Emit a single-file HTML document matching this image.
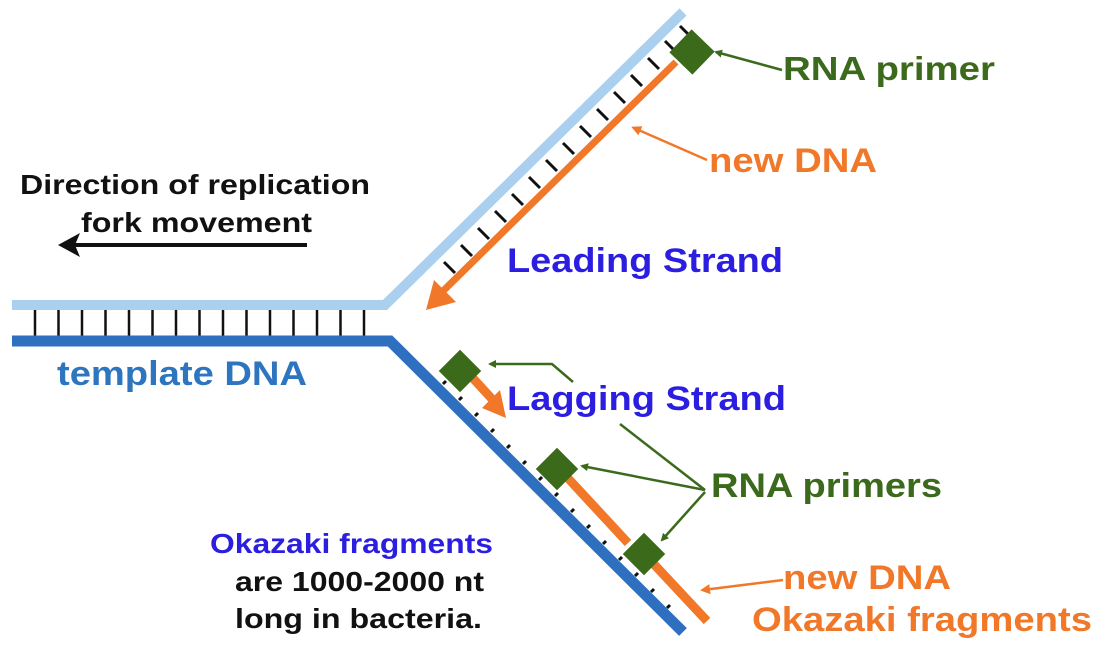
<!DOCTYPE html>
<html><head><meta charset="utf-8"><style>
html,body{margin:0;padding:0;background:#fff;}
svg{display:block;font-family:"Liberation Sans",Arial,sans-serif;font-weight:bold;}
</style></head><body>
<svg width="1108" height="649" viewBox="0 0 1108 649" xmlns="http://www.w3.org/2000/svg">
<defs>
<marker id="ag" markerWidth="8" markerHeight="8" refX="6" refY="4" orient="auto" markerUnits="userSpaceOnUse"><path d="M0,0 L8,4 L0,8 z" fill="#3c6a1c"/></marker>
<marker id="ao" markerWidth="10" markerHeight="10" refX="7" refY="5" orient="auto" markerUnits="userSpaceOnUse"><path d="M0,0 L10,5 L0,10 z" fill="#f07828"/></marker>
</defs>
<g stroke="#111" stroke-width="2.5">
<line x1="35" y1="310" x2="35" y2="336"/><line x1="58.5" y1="310" x2="58.5" y2="336"/><line x1="82" y1="310" x2="82" y2="336"/><line x1="105.5" y1="310" x2="105.5" y2="336"/><line x1="129" y1="310" x2="129" y2="336"/><line x1="152.5" y1="310" x2="152.5" y2="336"/><line x1="176" y1="310" x2="176" y2="336"/><line x1="199.5" y1="310" x2="199.5" y2="336"/><line x1="223" y1="310" x2="223" y2="336"/><line x1="246.5" y1="310" x2="246.5" y2="336"/><line x1="270" y1="310" x2="270" y2="336"/><line x1="293.5" y1="310" x2="293.5" y2="336"/><line x1="317" y1="310" x2="317" y2="336"/><line x1="340.5" y1="310" x2="340.5" y2="336"/><line x1="364" y1="310" x2="364" y2="336"/>
</g>
<g stroke="#111" stroke-width="3">
<line x1="444" y1="262" x2="455" y2="273"/><line x1="461" y1="245" x2="472" y2="256"/><line x1="478" y1="228" x2="489" y2="239"/><line x1="495" y1="211" x2="506" y2="222"/><line x1="512" y1="194" x2="523" y2="205"/><line x1="529" y1="177" x2="540" y2="188"/><line x1="546" y1="160" x2="557" y2="171"/><line x1="563" y1="143" x2="574" y2="154"/><line x1="580" y1="126" x2="591" y2="137"/><line x1="597" y1="109" x2="608" y2="120"/><line x1="614" y1="92" x2="625" y2="103"/><line x1="631" y1="75" x2="642" y2="86"/><line x1="648" y1="58" x2="659" y2="69"/><line x1="665" y1="41" x2="676" y2="52"/><line x1="680" y1="26" x2="688" y2="34"/>
</g>
<g stroke="#111" stroke-width="3">
<line x1="443" y1="384" x2="446" y2="381"/><line x1="459" y1="400" x2="462" y2="397"/><line x1="475" y1="416" x2="478" y2="413"/><line x1="491" y1="432" x2="494" y2="429"/><line x1="507" y1="448" x2="510" y2="445"/><line x1="523" y1="464" x2="526" y2="461"/><line x1="539" y1="480" x2="542" y2="477"/><line x1="555" y1="496" x2="558" y2="493"/><line x1="571" y1="512" x2="574" y2="509"/><line x1="587" y1="528" x2="590" y2="525"/><line x1="603" y1="544" x2="606" y2="541"/><line x1="619" y1="560" x2="622" y2="557"/><line x1="635" y1="576" x2="638" y2="573"/><line x1="651" y1="592" x2="654" y2="589"/><line x1="667" y1="608" x2="670" y2="605"/>
</g>
<polyline points="12,305 385,305 683,12" fill="none" stroke="#abd0ef" stroke-width="10"/>
<polyline points="12,341 390,341 683,632" fill="none" stroke="#2e6fc0" stroke-width="11"/>
<line x1="676" y1="62" x2="442" y2="292" stroke="#f07828" stroke-width="7"/>
<polygon points="426,310 434,280 456,302" fill="#f07828"/>
<line x1="470" y1="375" x2="492" y2="399" stroke="#f07828" stroke-width="9"/>
<polygon points="506,418 482,408 500,390" fill="#f07828"/>
<line x1="565" y1="475" x2="628" y2="543" stroke="#f07828" stroke-width="9"/>
<line x1="650" y1="560" x2="707" y2="621" stroke="#f07828" stroke-width="9"/>
<g fill="#3b6a1b">
<rect x="-16" y="-16" width="32" height="32" transform="translate(692,52) rotate(44)"/>
<rect x="-15" y="-15" width="30" height="30" transform="translate(460,371) rotate(45)"/>
<rect x="-15" y="-15" width="30" height="30" transform="translate(557,469) rotate(45)"/>
<rect x="-15" y="-15" width="30" height="30" transform="translate(644,554) rotate(45)"/>
</g>
<g stroke="#3c6a1c" stroke-width="2.5" fill="none">
<line x1="782" y1="70" x2="716" y2="52" marker-end="url(#ag)"/>
<polyline points="573,382 552,364 490,364" marker-end="url(#ag)"/>
<line x1="705" y1="490" x2="620" y2="424"/>
<line x1="705" y1="490" x2="582" y2="466" marker-end="url(#ag)"/>
<line x1="705" y1="492" x2="662" y2="540" marker-end="url(#ag)"/>
</g>
<g stroke="#f07828" stroke-width="2.5" fill="none">
<line x1="707" y1="160" x2="634" y2="128" marker-end="url(#ao)"/>
<line x1="783" y1="580" x2="703" y2="590" marker-end="url(#ao)"/>
</g>
<line x1="307" y1="245" x2="72" y2="245" stroke="#111" stroke-width="4"/>
<polygon points="58,245 80,233 75,245 80,257" fill="#111"/>
<g lengthAdjust="spacingAndGlyphs">
<text x="783" y="80" font-size="33" fill="#3c6a1c" textLength="212" lengthAdjust="spacingAndGlyphs">RNA primer</text>
<text x="709" y="172" font-size="34" fill="#f07828" textLength="168" lengthAdjust="spacingAndGlyphs">new DNA</text>
<text x="20" y="194" font-size="28" fill="#111" textLength="350" lengthAdjust="spacingAndGlyphs">Direction of replication</text>
<text x="81" y="232" font-size="28" fill="#111" textLength="231" lengthAdjust="spacingAndGlyphs">fork movement</text>
<text x="507" y="272" font-size="34" fill="#2b1ee0" textLength="276" lengthAdjust="spacingAndGlyphs">Leading Strand</text>
<text x="57" y="385" font-size="34" fill="#2e75c0" textLength="250" lengthAdjust="spacingAndGlyphs">template DNA</text>
<text x="507" y="410" font-size="34" fill="#2b1ee0" textLength="279" lengthAdjust="spacingAndGlyphs">Lagging Strand</text>
<text x="711" y="497" font-size="34" fill="#3c6a1c" textLength="231" lengthAdjust="spacingAndGlyphs">RNA primers</text>
<text x="210" y="553" font-size="28" fill="#2b1ee0" textLength="283" lengthAdjust="spacingAndGlyphs">Okazaki fragments</text>
<text x="235" y="591" font-size="28" fill="#111" textLength="249" lengthAdjust="spacingAndGlyphs">are 1000-2000 nt</text>
<text x="235" y="628" font-size="28" fill="#111" textLength="247" lengthAdjust="spacingAndGlyphs">long in bacteria.</text>
<text x="783" y="589" font-size="34" fill="#f07828" textLength="168" lengthAdjust="spacingAndGlyphs">new DNA</text>
<text x="752" y="631" font-size="34" fill="#f07828" textLength="340" lengthAdjust="spacingAndGlyphs">Okazaki fragments</text>
</g>
</svg>
</body></html>
